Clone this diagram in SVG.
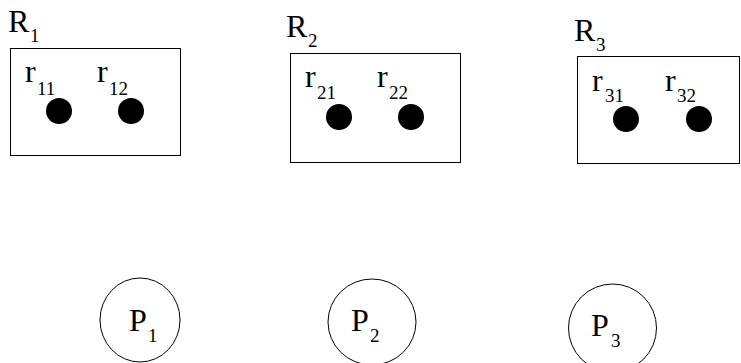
<svg xmlns="http://www.w3.org/2000/svg" width="741" height="363" viewBox="0 0 741 363">
<style>
.box{fill:none;stroke:#000;stroke-width:1}
.dot{fill:#000}
.proc{fill:none;stroke:#000;stroke-width:1}
</style>
<rect width="741" height="363" fill="#fff"/>
<g font-family="Times New Roman, Liberation Serif, DejaVu Serif, serif" fill="#000">
<g id="R1">
<rect class="box" x="10.5" y="48.5" width="170" height="107"/>
<text font-size="32" x="8" y="32">R</text><text font-size="19" x="30" y="42">1</text>
<text font-size="32" x="25" y="82">r</text><text font-size="19" x="37" y="95">11</text>
<text font-size="32" x="97" y="82">r</text><text font-size="19" x="109" y="95">12</text>
<circle class="dot" cx="59" cy="111" r="13"/>
<circle class="dot" cx="131" cy="111" r="13"/>
</g>
<g id="R2">
<rect class="box" x="290.5" y="53.5" width="170" height="109"/>
<text font-size="32" x="286" y="37">R</text><text font-size="19" x="308" y="47">2</text>
<text font-size="32" x="305" y="87">r</text><text font-size="19" x="317" y="99">21</text>
<text font-size="32" x="377" y="87">r</text><text font-size="19" x="389" y="99">22</text>
<circle class="dot" cx="339" cy="117" r="13"/>
<circle class="dot" cx="411" cy="117" r="13"/>
</g>
<g id="R3">
<rect class="box" x="577.5" y="56.5" width="162" height="107"/>
<text font-size="32" x="574" y="41">R</text><text font-size="19" x="596" y="51">3</text>
<text font-size="32" x="592" y="91">r</text><text font-size="19" x="605" y="102">31</text>
<text font-size="32" x="665" y="91">r</text><text font-size="19" x="677" y="102">32</text>
<circle class="dot" cx="626" cy="119" r="13"/>
<circle class="dot" cx="699" cy="119" r="13"/>
</g>
<g id="P1">
<ellipse class="proc" cx="140" cy="320" rx="40" ry="42"/>
<text font-size="32" x="129" y="331">P</text><text font-size="19" x="148" y="342">1</text>
</g>
<g id="P2">
<ellipse class="proc" cx="372" cy="322" rx="44" ry="43"/>
<text font-size="32" x="351" y="331">P</text><text font-size="19" x="370" y="342">2</text>
</g>
<g id="P3">
<ellipse class="proc" cx="612.5" cy="328" rx="44" ry="44"/>
<text font-size="32" x="591" y="336">P</text><text font-size="19" x="611" y="347">3</text>
</g>
</g>
<g id="connectors"></g>
</svg>
